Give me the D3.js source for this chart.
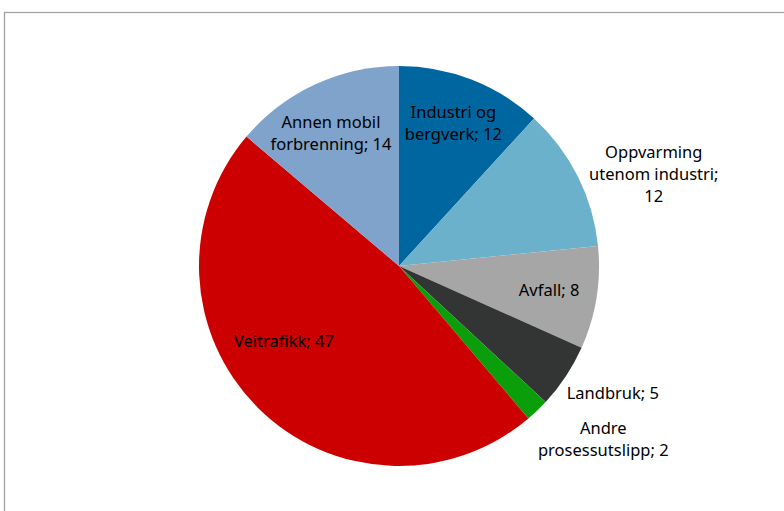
<!DOCTYPE html>
<html>
<head>
<meta charset="utf-8">
<script src="https://cdn.jsdelivr.net/npm/d3@7"></script>
<style>
  html, body { margin: 0; padding: 0; background: #fff; }
  svg { display: block; }
  text { font-family: "Noto Sans", "Open Sans", sans-serif; font-size: 16.5px; fill: #000; }
</style>
</head>
<body>
<svg width="784" height="511"></svg>
<script>
(function() {
  'use strict';

// Utslipp per kilde (andel, prosent)
var categories = ["Industri og bergverk", "Oppvarming utenom industri", "Avfall", "Landbruk",
                  "Andre prosessutslipp", "Veitrafikk", "Annen mobil forbrenning"];
var values = [11.8, 11.6, 8.3, 5.2, 1.9, 47.4, 13.8];
// label line breaks as shown in the chart
var labelLines = [
  ["Industri og", "bergverk; 12"],
  ["Oppvarming", "utenom industri;", "12"],
  ["Avfall; 8"],
  ["Landbruk; 5"],
  ["Andre", "prosessutslipp; 2"],
  ["Veitrafikk; 47"],
  ["Annen mobil", "forbrenning; 14"]
];
var colors = ["#0066a0", "#6bb1cc", "#a6a6a6", "#333535", "#0a9e0a", "#cc0000", "#7fa3cb"];

var svg = d3.select("svg");
var cx = 399, cy = 266, r = 200;

// chart area frame
svg.append("rect")
   .attr("x", 4.5).attr("y", 12.5)
   .attr("width", 800).attr("height", 520)
   .attr("fill", "none")
   .attr("stroke", "#a3a3a3")
   .attr("stroke-width", 1.3);

var pie = d3.pie().sort(null).value(function(d) { return d; });
var arcs = pie(values);

var arc = d3.arc().innerRadius(0).outerRadius(r);
var labelArcIn = d3.arc().innerRadius(150).outerRadius(150);
var labelArcRim = d3.arc().innerRadius(r).outerRadius(r);

var g = svg.append("g").attr("transform", "translate(" + cx + "," + cy + ")");

g.selectAll("path.slice")
 .data(arcs)
 .enter().append("path")
 .attr("class", "slice")
 .attr("d", arc)
 .attr("fill", function(d, i) { return colors[i]; });

// inside labels sit on the 150px ring, outside labels are pushed off the rim
var outside = [false, true, false, true, true, false, false];
var nudge = [[0, -3], [76, -2], [2, 0], [47, 17], [66, 29], [-9, -31], [-5, 3]];

var lineH = 22;
var labels = g.selectAll("text.lbl")
  .data(arcs)
  .enter().append("text")
  .attr("class", "lbl")
  .attr("text-anchor", "middle")
  .attr("transform", function(d, i) {
    var p = (outside[i] ? labelArcRim : labelArcIn).centroid(d);
    return "translate(" + (p[0] + nudge[i][0]) + "," + (p[1] + nudge[i][1]) + ")";
  });

labels.each(function(d, i) {
  var lines = labelLines[i];
  var t = d3.select(this);
  lines.forEach(function(s, k) {
    t.append("tspan")
     .attr("x", 0)
     .attr("y", (k - (lines.length - 1) / 2) * lineH)
     .attr("dy", "0.35em")
     .text(s);
  });
});

})();
</script>
</body>
</html>
